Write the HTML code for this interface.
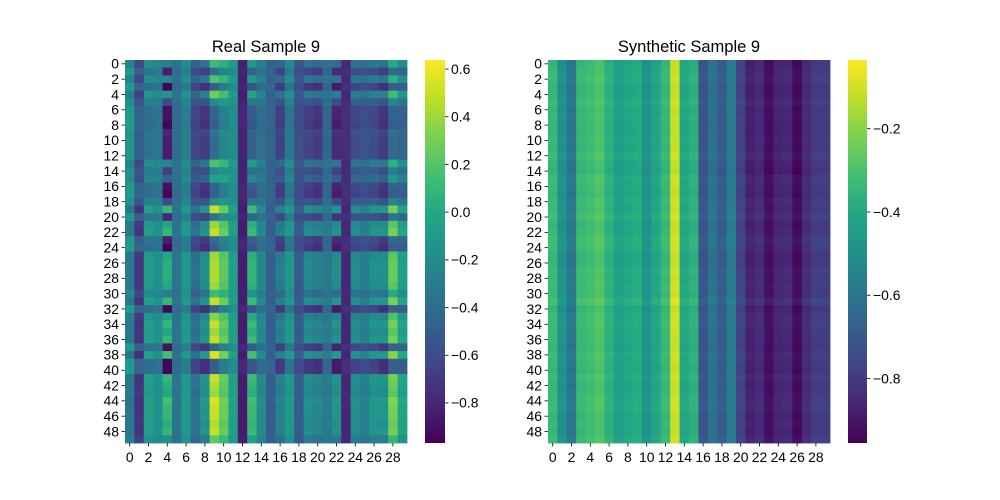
<!DOCTYPE html>
<html><head><meta charset="utf-8"><style>
html,body{margin:0;padding:0;background:#fff}
svg{display:block;font-family:"Liberation Sans","DejaVu Sans",sans-serif}
</style></head><body>
<svg id="fig" width="1000" height="500" viewBox="0 0 1000 500" xmlns="http://www.w3.org/2000/svg">
<defs>
<linearGradient id="vir" x1="0" y1="1" x2="0" y2="0">
<stop offset="0" stop-color="#440154"/><stop offset="0.1" stop-color="#482475"/><stop offset="0.2" stop-color="#414487"/><stop offset="0.3" stop-color="#355f8d"/><stop offset="0.4" stop-color="#2a788e"/><stop offset="0.5" stop-color="#21918c"/><stop offset="0.6" stop-color="#22a884"/><stop offset="0.7" stop-color="#44bf70"/><stop offset="0.8" stop-color="#7ad151"/><stop offset="0.9" stop-color="#bddf26"/><stop offset="1" stop-color="#fde725"/>
</linearGradient>
</defs>
<text x="266" y="52" font-size="16.5" text-anchor="middle">Real Sample 9</text>
<text x="689" y="52" font-size="16.5" text-anchor="middle">Synthetic Sample 9</text>
<g id="real"></g>
<g id="syn"></g>
<rect x="425" y="60" width="20" height="383" fill="url(#vir)"/>
<rect x="848" y="60" width="19" height="383" fill="url(#vir)"/>
<g id="axes"></g>
</svg>
<script>
// Real sample: column values on "high" rows and "low" rows, and per-row mix
const realColHigh=[-0.35,-0.75,-0.05,-0.15,0.15,-0.35,-0.1,-0.35,-0.1,0.55,0.3,-0.05,-0.85,0.15,-0.2,-0.5,-0.25,-0.1,-0.5,-0.15,-0.2,-0.3,-0.1,-0.8,-0.15,-0.25,-0.1,-0.1,0.35,0.0];
const realColLow=[-0.1,-0.45,-0.4,-0.35,-0.95,-0.4,-0.3,-0.65,-0.75,-0.5,-0.3,-0.2,-0.8,-0.55,-0.4,-0.45,-0.7,-0.35,-0.6,-0.7,-0.75,-0.45,-0.85,-0.75,-0.65,-0.6,-0.65,-0.75,-0.5,-0.5];
const realRowMix=[0.6,0.1,0.65,0,0.75,0.3,0.05,0.05,0,0.15,0.1,0.1,0.1,0.65,0.25,0.45,0.05,0,0.3,0.95,0.15,0.85,0.95,0.1,0,0.85,0.9,0.9,0.9,0.85,0.6,0.95,0,0.8,0.95,0.85,0.95,0.05,1,0,0,0.95,0.9,0.85,1,0.95,0.95,0.9,0.95,0.7];
const realRange=[-0.968,0.638];
const realTicks=[0.6,0.4,0.2,0.0,-0.2,-0.4,-0.6,-0.8];
// Synthetic sample: column values and per-row offsets
const synCol=[-0.35,-0.5,-0.6,-0.35,-0.33,-0.3,-0.38,-0.45,-0.42,-0.4,-0.5,-0.42,-0.35,-0.12,-0.42,-0.38,-0.72,-0.62,-0.7,-0.58,-0.78,-0.88,-0.85,-0.93,-0.87,-0.86,-0.94,-0.85,-0.8,-0.8];
const synRow=[0,0.01,0.02,0,0,0.02,0,0.01,0,0,0.01,0,0.02,0,-0.01,0.02,0.01,0,0.02,0.01,0.03,0,0.01,0.03,0.02,0,0,0.02,0.01,0.02,0.01,0.04,0,0.02,0.02,0.01,0.01,0,0.02,0.01,0,0.02,0,0.01,0.02,0.02,0,0.01,0,0.02];
const synRange=[-0.955,-0.035];
const synTicks=[-0.2,-0.4,-0.6,-0.8];
const rowLabels=[0,2,4,6,8,10,12,14,16,18,20,22,24,26,28,30,32,34,36,38,40,42,44,46,48];
const colLabels=[0,2,4,6,8,10,12,14,16,18,20,22,24,26,28];

const VIR=["#440154","#482475","#414487","#355f8d","#2a788e","#21918c","#22a884","#44bf70","#7ad151","#bddf26","#fde725"];
function hex(h){return [1,3,5].map(i=>parseInt(h.substr(i,2),16));}
function viridis(t){t=Math.max(0,Math.min(1,t));const f=t*10,i=Math.min(9,Math.floor(f)),u=f-i;const a=hex(VIR[i]),b=hex(VIR[i+1]);return "rgb("+a.map((v,k)=>Math.round(v+(b[k]-v)*u)).join(",")+")";}
const NS="http://www.w3.org/2000/svg";
function mk(tag,attrs,parent){const e=document.createElementNS(NS,tag);for(const k in attrs)e.setAttribute(k,attrs[k]);parent.appendChild(e);return e;}
const axes=document.getElementById('axes');
function heat(g,x0,val,range){
  const W=282,H=383,cw=W/30,rh=H/50;
  const sx=c=>x0+c*cw, sy=r=>60+r*rh;
  for(let r=0;r<50;r++)for(let c=0;c<30;c++){
    const v=val(r,c);
    const e=mk('rect',{x:sx(c).toFixed(2),y:sy(r).toFixed(2),width:(cw+0.4).toFixed(2),height:(rh+0.4).toFixed(2),fill:viridis((v-range[0])/(range[1]-range[0]))},g);
    
    
  }
  rowLabels.forEach(l=>{const y=sy(l+0.5);
    mk('line',{x1:x0-3.5,x2:x0,y1:y,y2:y,stroke:'#000','stroke-width':0.8},axes);
    const t=mk('text',{x:x0-6,y:y+4.8,'font-size':13.9,'text-anchor':'end'},axes);t.textContent=l;
    
    });
  colLabels.forEach(l=>{const x=sx(l+0.5);
    mk('line',{x1:x,x2:x,y1:443,y2:446.5,stroke:'#000','stroke-width':0.8},axes);
    const t=mk('text',{x:x,y:462,'font-size':13.9,'text-anchor':'middle'},axes);t.textContent=l;
    
    });
}
function cbar(x0,range,ticks){
  ticks.forEach(v=>{const y=443-(v-range[0])/(range[1]-range[0])*383;
    mk('line',{x1:x0,x2:x0+3.5,y1:y,y2:y,stroke:'#000','stroke-width':0.8},axes);
    const t=mk('text',{x:x0+6,y:y+4.8,'font-size':13.9},axes);t.textContent=(v<0?'\u2212':'')+Math.abs(v).toFixed(1);
    
    });
}
heat(document.getElementById('real'),125,(r,c)=>realColLow[c]+realRowMix[r]*(realColHigh[c]-realColLow[c]),realRange);
heat(document.getElementById('syn'),548,(r,c)=>synCol[c]+synRow[r],synRange);
cbar(445,realRange,realTicks);
cbar(867,synRange,synTicks);
</script>
</body></html>
